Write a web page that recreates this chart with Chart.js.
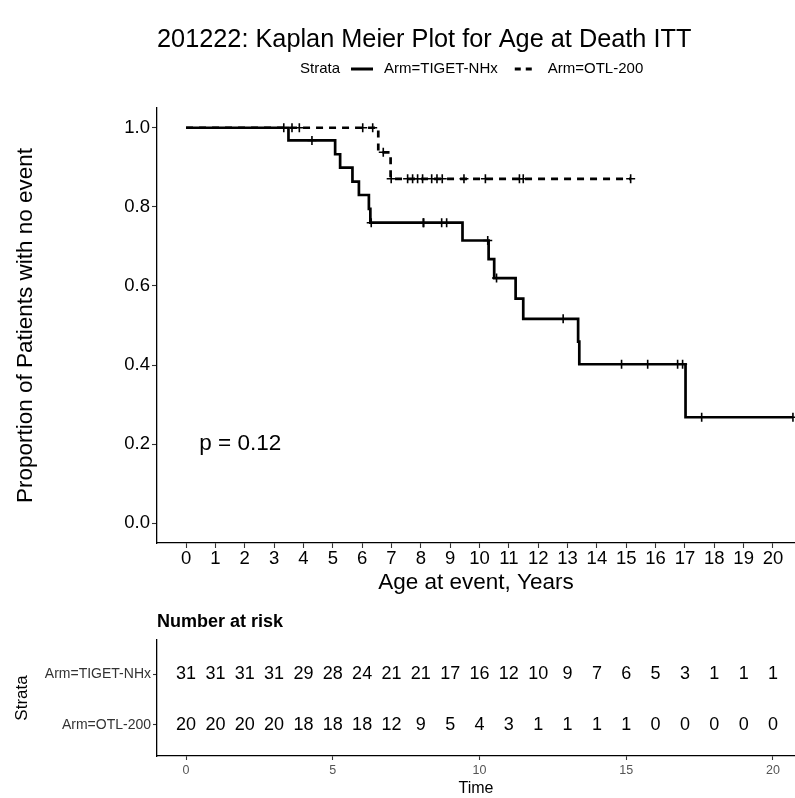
<!DOCTYPE html>
<html>
<head>
<meta charset="utf-8">
<script src="https://cdn.jsdelivr.net/npm/chart.js@4.4.1/dist/chart.umd.min.js"></script>
<style>
  html, body { margin: 0; padding: 0; background: #ffffff; }
  canvas { display: block; }
</style>
</head>
<body>
<canvas id="km" width="795" height="600"></canvas>
<canvas id="risk" width="795" height="198"></canvas>
<script>
const FONT = '"Liberation Sans", Arial, Helvetica, sans-serif';

const TITLE = '201222: Kaplan Meier Plot for Age at Death ITT';
const strata = ['Arm=TIGET-NHx', 'Arm=OTL-200'];
const pValueText = 'p = 0.12';

// Kaplan-Meier steps: event time (years) and survival estimate after the event
const tigetTimes = [0, 3.49, 5.08, 5.25, 5.67, 5.89, 6.23, 6.28, 9.42, 10.31, 10.50, 11.23, 11.49, 13.36, 13.40, 17.02, 20.68];
const tigetSurv  = [1.000, 0.968, 0.933, 0.899, 0.864, 0.830, 0.795, 0.760, 0.715, 0.668, 0.620, 0.568, 0.517, 0.459, 0.402, 0.268, 0.268];
// censored observations (time, survival level at that time)
const tigetCensorTimes = [3.33, 4.29, 6.31, 8.08, 8.10, 8.71, 8.88, 10.28, 10.58, 12.85, 14.84, 15.73, 16.75, 16.92, 17.57, 20.68];
const tigetCensorSurv  = [1.000, 0.968, 0.760, 0.760, 0.760, 0.760, 0.760, 0.715, 0.620, 0.517, 0.402, 0.402, 0.402, 0.402, 0.268, 0.268];

const otlTimes = [0, 6.55, 6.97, 15.15];
const otlSurv  = [1.000, 0.938, 0.871, 0.871];
const otlCensorTimes = [3.61, 3.86, 6.02, 6.36, 6.72, 6.99, 7.55, 7.72, 7.89, 8.06, 8.37, 8.55, 8.73, 9.47, 10.20, 11.36, 11.49, 15.15];
const otlCensorSurv  = [1.000, 1.000, 1.000, 1.000, 0.938, 0.871, 0.871, 0.871, 0.871, 0.871, 0.871, 0.871, 0.871, 0.871, 0.871, 0.871, 0.871, 0.871];

// number at risk table
const riskTimes = [0, 1, 2, 3, 4, 5, 6, 7, 8, 9, 10, 11, 12, 13, 14, 15, 16, 17, 18, 19, 20];
const riskTiget = [31, 31, 31, 31, 29, 28, 24, 21, 21, 17, 16, 12, 10, 9, 7, 6, 5, 3, 1, 1, 1];
const riskOtl   = [20, 20, 20, 20, 18, 18, 18, 12, 9, 5, 4, 3, 1, 1, 1, 1, 0, 0, 0, 0, 0];

// axis ticks
const xTicks = [0, 1, 2, 3, 4, 5, 6, 7, 8, 9, 10, 11, 12, 13, 14, 15, 16, 17, 18, 19, 20];
const yTicks = [0, 0.2, 0.4, 0.6, 0.8, 1.0];
const riskXTicks = [0, 5, 10, 15, 20];

const X_MIN = -0.99, X_MAX = 20.75;
const P_AT = { x: 0.45, y: 0.2 };

const pts = (xs, ys) => xs.map((x, i) => ({ x: x, y: ys[i] }));

const axisBorder = { display: true, color: '#000000', width: 1.3 };
const tickGrid = { display: true, drawOnChartArea: false, drawTicks: true, tickLength: 5, tickColor: '#333333', tickWidth: 1.1 };

// title, legend and p-value drawn on the main chart
const kmDecor = {
  id: 'kmDecor',
  afterDraw(chart) {
    const ctx = chart.ctx;
    const area = chart.chartArea;
    ctx.save();
    ctx.fillStyle = '#000';
    ctx.textBaseline = 'middle';
    ctx.textAlign = 'left';
    ctx.font = '25.3px ' + FONT;
    ctx.fillText(TITLE, area.left, 40);

    // legend
    const ly = 69;
    const keyW = 22;
    ctx.font = '15px ' + FONT;
    let x = 300;
    ctx.fillText('Strata', x, ly);
    x += ctx.measureText('Strata').width + 11;
    [0, 1].forEach(i => {
      ctx.save();
      ctx.strokeStyle = '#000';
      ctx.lineWidth = 3;
      ctx.setLineDash(i === 0 ? [] : [6, 5]);
      ctx.beginPath();
      ctx.moveTo(x, ly);
      ctx.lineTo(x + keyW, ly);
      ctx.stroke();
      ctx.restore();
      x += keyW + 11;
      ctx.fillText(strata[i], x, ly);
      x += ctx.measureText(strata[i]).width + 17;
    });

    // log-rank p-value
    const xs = chart.scales.x, ys = chart.scales.y;
    ctx.font = '22.5px ' + FONT;
    ctx.fillText(pValueText, xs.getPixelForValue(P_AT.x), ys.getPixelForValue(P_AT.y));
    ctx.restore();
  }
};

new Chart(document.getElementById('km'), {
  type: 'scatter',
  data: {
    datasets: [
      { label: strata[0], data: pts(tigetTimes, tigetSurv), showLine: true, stepped: 'before',
        borderColor: '#000', borderWidth: 2.7, pointRadius: 0, fill: false },
      { label: strata[1], data: pts(otlTimes, otlSurv), showLine: true, stepped: 'before',
        borderColor: '#000', borderWidth: 2.7, borderDash: [7, 6], pointRadius: 0, fill: false },
      { label: strata[0] + ' censored', data: pts(tigetCensorTimes, tigetCensorSurv), showLine: false,
        pointStyle: 'cross', pointRadius: 4.5, borderColor: '#000', borderWidth: 1.6 },
      { label: strata[1] + ' censored', data: pts(otlCensorTimes, otlCensorSurv), showLine: false,
        pointStyle: 'cross', pointRadius: 4.5, borderColor: '#000', borderWidth: 1.6 }
    ]
  },
  options: {
    responsive: false,
    animation: false,
    devicePixelRatio: 1,
    layout: { autoPadding: false, padding: { top: 108, left: 0, right: 0, bottom: 0 } },
    plugins: { legend: { display: false }, title: { display: false }, tooltip: { enabled: false } },
    scales: {
      x: {
        type: 'linear', min: X_MIN, max: X_MAX,
        afterBuildTicks: s => { s.ticks = xTicks.map(v => ({ value: v })); },
        afterFit: s => { s.height = 57; },
        ticks: { autoSkip: false, maxRotation: 0, padding: 0, color: '#000', font: { family: FONT, size: 18.5 },
                 callback: v => String(v) },
        grid: tickGrid, border: axisBorder,
        title: { display: true, text: 'Age at event, Years', color: '#000', font: { family: FONT, size: 22.5 },
                 padding: { top: 0, bottom: 4 } }
      },
      y: {
        type: 'linear', min: -0.05, max: 1.05,
        afterBuildTicks: s => { s.ticks = yTicks.map(v => ({ value: v })); },
        afterFit: s => { s.width = 157; },
        ticks: { padding: 2, color: '#000', font: { family: FONT, size: 18.5 }, callback: v => Number(v).toFixed(1) },
        grid: tickGrid, border: axisBorder,
        title: { display: true, text: 'Proportion of Patients with no event', color: '#000',
                 font: { family: FONT, size: 22.5 }, padding: { top: 12, bottom: 0 } }
      }
    }
  },
  plugins: [kmDecor]
});

// number-at-risk table
const riskDecor = {
  id: 'riskDecor',
  afterDatasetsDraw(chart) {
    const ctx = chart.ctx;
    ctx.save();
    ctx.fillStyle = '#000';
    ctx.textBaseline = 'middle';
    ctx.textAlign = 'center';
    ctx.font = '18px ' + FONT;
    chart.data.datasets.forEach((ds, i) => {
      chart.getDatasetMeta(i).data.forEach((el, j) => {
        ctx.fillText(String(ds.data[j].n), el.x, el.y);
      });
    });
    ctx.textAlign = 'left';
    ctx.font = 'bold 18px ' + FONT;
    ctx.fillText('Number at risk', chart.chartArea.left, 22);
    ctx.restore();
  }
};

const riskRows = [riskTiget, riskOtl];
new Chart(document.getElementById('risk'), {
  type: 'scatter',
  data: {
    datasets: riskRows.map((row, r) => ({
      label: strata[r],
      data: riskTimes.map((t, j) => ({ x: t, y: r + 1, n: row[j] })),
      pointRadius: 0, showLine: false
    }))
  },
  options: {
    responsive: false,
    animation: false,
    devicePixelRatio: 1,
    layout: { autoPadding: false, padding: { top: 40, left: 0, right: 0, bottom: 0 } },
    plugins: { legend: { display: false }, title: { display: false }, tooltip: { enabled: false } },
    scales: {
      x: {
        type: 'linear', min: X_MIN, max: X_MAX,
        afterBuildTicks: s => { s.ticks = riskXTicks.map(v => ({ value: v })); },
        afterFit: s => { s.height = 42; },
        ticks: { autoSkip: false, maxRotation: 0, padding: 3, color: '#555555', font: { family: FONT, size: 12.5 },
                 callback: v => String(v) },
        grid: Object.assign({}, tickGrid, { tickLength: 4 }), border: axisBorder,
        title: { display: true, text: 'Time', color: '#000', font: { family: FONT, size: 16 },
                 padding: { top: 0, bottom: 0 } }
      },
      y: {
        type: 'linear', min: 0.32, max: 2.62, reverse: true,
        afterBuildTicks: s => { s.ticks = [1, 2].map(v => ({ value: v })); },
        afterFit: s => { s.width = 157; },
        ticks: { padding: 2, color: '#333333', font: { family: FONT, size: 14 }, callback: v => strata[v - 1] },
        grid: Object.assign({}, tickGrid, { tickLength: 4 }), border: axisBorder,
        title: { display: true, text: 'Strata', color: '#000', font: { family: FONT, size: 17 },
                 padding: { top: 12, bottom: 0 } }
      }
    }
  },
  plugins: [riskDecor]
});
</script>
</body>
</html>
